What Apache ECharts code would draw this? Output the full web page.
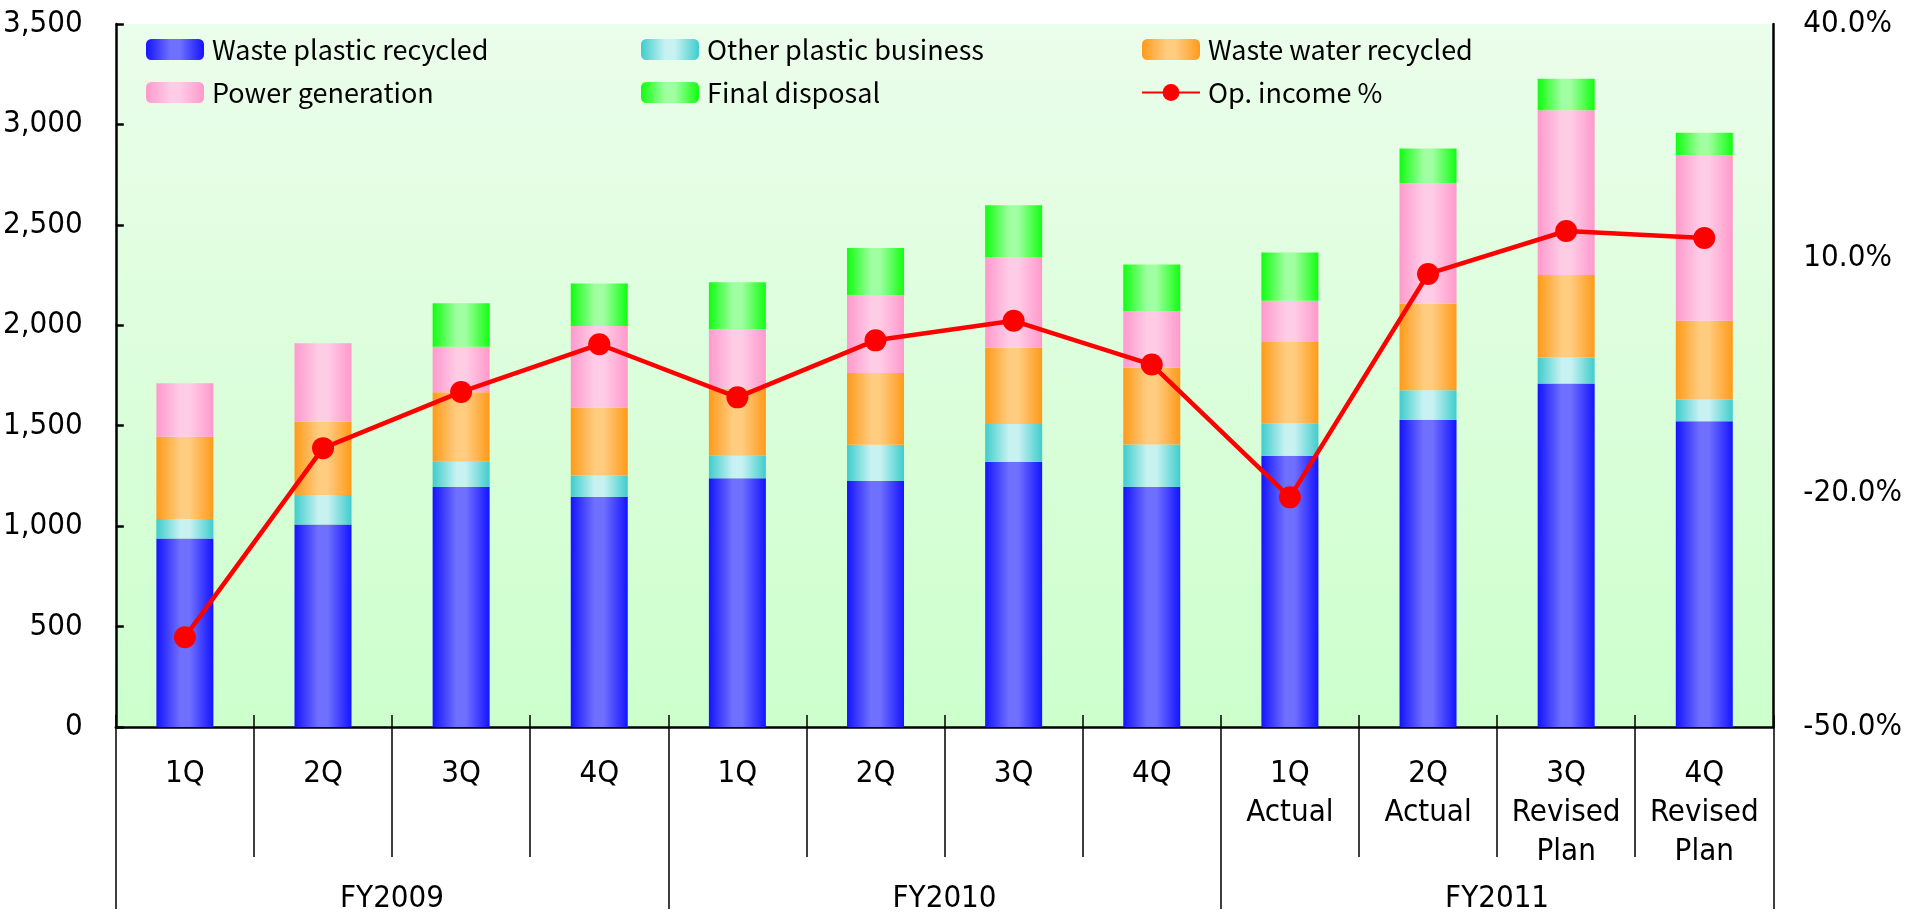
<!DOCTYPE html>
<html>
<head>
<meta charset="utf-8">
<script src="https://cdn.jsdelivr.net/npm/echarts@6/dist/echarts.min.js"></script>
<style>html,body{margin:0;padding:0;background:#fff;}#c{width:1905px;height:917px;}</style>
</head>
<body>
<div id="c"></div>
<script>
const quarters = ['1Q','2Q','3Q','4Q','1Q','2Q','3Q','4Q','1Q\nActual','2Q\nActual','3Q\nRevised\nPlan','4Q\nRevised\nPlan'];
const fiscalYears = ['FY2009','FY2010','FY2011'];
const wastePlastic = [938,1008,1195,1145,1238,1225,1320,1195,1350,1530,1710,1522];
const otherPlastic = [98,147,125,107,112,180,188,212,162,147,130,108];
const wasteWater = [409,365,346,338,335,358,380,382,405,432,410,393];
const powerGen = [267,390,227,407,297,388,450,282,205,599,820,825];
const finalDisposal = [0,0,217,211,232,234,259,232,240,172,157,110];
const opIncome = [-38.5,-14.3,-7.1,-1.0,-7.8,-0.5,2.0,-3.6,-20.6,8.0,13.5,12.6];
const leftTicks = {min:0,max:3500,interval:500};
const rightTicks = {min:-50,max:40,interval:30};

function grad(edge, mid){
  return new echarts.graphic.LinearGradient(0,0,1,0,[
    {offset:0,color:edge},{offset:0.42,color:mid},{offset:0.58,color:mid},{offset:1,color:edge}]);
}
const AXFONT = '"Liberation Sans Narrow", "DejaVu Sans Condensed", "Noto Sans CJK JP", sans-serif';
const LGFONT = '"Noto Sans CJK JP", "Noto Sans", sans-serif';
const barStyle = [
  ['Waste plastic recycled', wastePlastic, grad('#1414ff','#7070ff')],
  ['Other plastic business', otherPlastic, grad('#40cccc','#c8f2f2')],
  ['Waste water recycled', wasteWater, grad('#ff9a1a','#ffcc80')],
  ['Power generation', powerGen, grad('#ff99cc','#ffcce6')],
  ['Final disposal', finalDisposal, grad('#10ff10','#a0ffa0')]
];
const series = barStyle.map(b => ({
  name:b[0], type:'bar', stack:'total', data:b[1], barWidth:57,
  itemStyle:{color:b[2]}, xAxisIndex:0, yAxisIndex:0
}));
series.push({
  name:'Op. income %', type:'line', data:opIncome, xAxisIndex:0, yAxisIndex:1,
  lineStyle:{color:'#ff0000',width:4.5}, itemStyle:{color:'#ff0000'},
  symbol:'circle', symbolSize:22, z:10
});

const legendBase = {orient:'vertical', itemWidth:58, itemHeight:21, itemGap:16,
  textStyle:{fontFamily:LGFONT,fontSize:27,lineHeight:26,color:'#000',padding:[0,0,0,3]}, top:31};
const tickStyle = {color:'#000',width:1.5};
const chart = echarts.init(document.getElementById('c'));
chart.setOption({
  animation:false,
  backgroundColor:'#ffffff',
  grid:{left:115,right:125,top:24,bottom:182,show:true,borderWidth:0,containLabel:false,
    backgroundColor:new echarts.graphic.LinearGradient(0,0,0,1,[{offset:0,color:'#ebfdeb'},{offset:1,color:'#ccffcc'}])},
  legend:[
    Object.assign({left:141,data:['Waste plastic recycled','Power generation']},legendBase),
    Object.assign({left:636,data:['Other plastic business','Final disposal']},legendBase),
    Object.assign({left:1136,data:['Waste water recycled','Op. income %']},legendBase)
  ],
  xAxis:[
    {type:'category',data:quarters,position:'bottom',
     axisLine:{show:true,onZero:false,lineStyle:{color:'#000',width:2.5}},
     axisTick:{show:true,interval:0,length:130,lineStyle:tickStyle},
     axisLabel:{interval:0,margin:27,fontFamily:AXFONT,fontSize:31,color:'#000',lineHeight:39}},
    {type:'category',data:fiscalYears,position:'bottom',
     axisLine:{show:false,onZero:false},
     axisTick:{show:true,interval:0,length:182,lineStyle:tickStyle},
     axisLabel:{interval:0,margin:153,fontFamily:AXFONT,fontSize:31,color:'#000',lineHeight:37}},
    {type:'category',data:quarters,position:'bottom',
     axisLine:{show:false,onZero:false},
     axisTick:{show:true,inside:true,interval:0,length:12,lineStyle:tickStyle},
     axisLabel:{show:false}}
  ],
  yAxis:[
    {type:'value',min:leftTicks.min,max:leftTicks.max,interval:leftTicks.interval,position:'left',
     axisLine:{show:true,lineStyle:{color:'#000',width:2.5}},
     axisTick:{show:true,inside:true,length:8,lineStyle:{color:'#000',width:2.5}},
     splitLine:{show:false},
     axisLabel:{margin:33,fontFamily:AXFONT,fontSize:31,color:'#000',
       formatter:v=>v.toLocaleString('en-US')}},
    {type:'value',min:rightTicks.min,max:rightTicks.max,interval:rightTicks.interval,position:'right',
     axisLine:{show:true,lineStyle:{color:'#000',width:2.5}},
     axisTick:{show:false},
     splitLine:{show:false},
     axisLabel:{margin:30,fontFamily:AXFONT,fontSize:31,color:'#000',
       formatter:v=>v.toFixed(1)+'%'}}
  ],
  series:series
});
</script>
</body>
</html>
